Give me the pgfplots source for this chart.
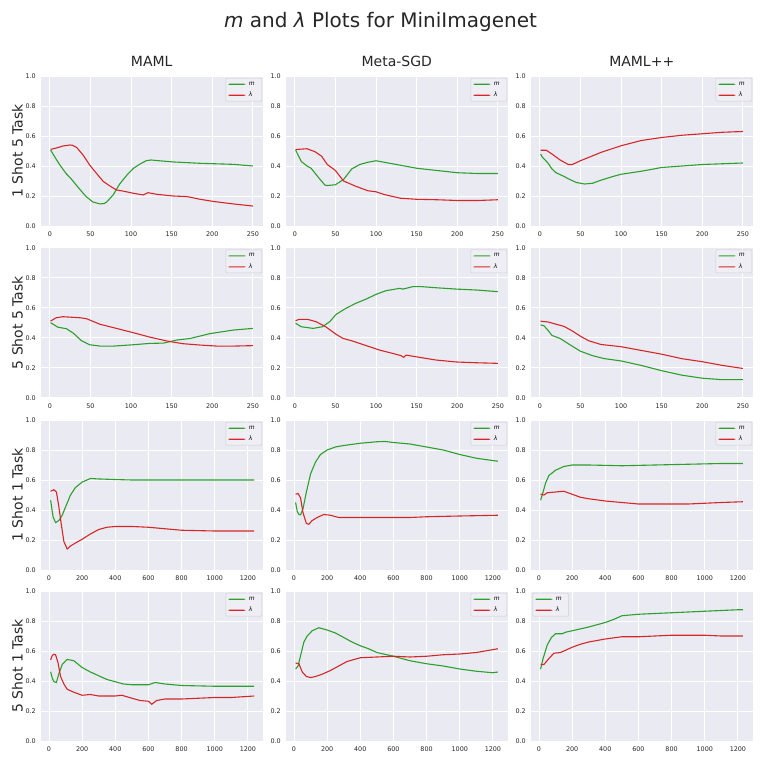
\documentclass[border=0pt]{standalone}
\usepackage{fontspec}
\setmainfont{DejaVu Sans}
\usepackage{pgfplots}
\pgfplotsset{compat=1.18}
\definecolor{bgc}{HTML}{EAEAF2}
\definecolor{tc}{HTML}{262626}
\definecolor{legc}{HTML}{CFCFD5}
\definecolor{legf}{HTML}{EEEEF4}
\definecolor{mgreen}{rgb}{0.173,0.627,0.173}
\definecolor{lred}{rgb}{0.839,0.153,0.157}
\pgfplotsset{
  every axis legend/.append style={
      draw=legc, fill=legf, rounded corners=1pt, line width=0.5pt,
      font=\fontsize{6}{7}\selectfont, inner xsep=2.5pt, inner ysep=1.5pt,
      row sep=2pt, nodes={inner sep=0pt, minimum height=9pt},
      /tikz/every odd column/.append style={column sep=3.5pt}},
  legend cell align=left,
}
\pgfplotsset{
  base/.style={
    scale only axis, width=222.5pt, height=150pt, anchor=south west,
    axis background/.style={fill=bgc},
    axis line style={draw=none},
    grid=major, major grid style={white, line width=0.9pt},
    major tick length=0pt,
    ymin=0, ymax=1, ytick={0,0.2,0.4,0.6,0.8,1},
    scaled ticks=false,
    /pgf/number format/assume math mode=true,
    /pgf/number format/1000 sep={},
    yticklabel={\pgfmathprintnumber[fixed,fixed zerofill,precision=1]{\tick}},
    tick label style={font=\fontsize{6.4}{7}\selectfont, text=tc, inner sep=0pt},
    yticklabel style={anchor=east, xshift=-4.5pt},
    xticklabel style={anchor=north, yshift=-5.5pt},
    title style={at={(0.5,1)}, anchor=base, yshift=3.3pt, font=\fontsize{14}{16}\selectfont, text=tc, inner sep=0pt},
    ylabel style={at={(axis description cs:-0.0787,0.5)}, anchor=south, font=\fontsize{14}{16}\selectfont, text=tc, inner sep=0pt},
    legend style={at={(1,1)}, anchor=north east, xshift=-1pt, yshift=-2pt},
    legend image code/.code={\fill[##1, draw=none] (0pt,-0.55pt) rectangle (17pt,0.55pt);},
  },
  short/.style={base, xmin=-11.45, xmax=262.45, xtick={0,50,100,150,200,250}},
  long/.style={base, xmin=-51, xmax=1291, xtick={0,200,400,600,800,1000,1200}},
  mline/.style={color=mgreen, line width=1.1pt, no markers},
  lline/.style={color=lred, line width=1.1pt, no markers},
}
\newcommand{\legM}{\addlegendentry{\itshape m\hspace*{4.5pt}}}
\newcommand{\legL}{\addlegendentry{\itshape λ}}
\begin{document}
\begin{tikzpicture}
\useasboundingbox (0,0) rectangle (761pt,761pt);
\node[anchor=base, font=\fontsize{20}{24}\selectfont, text=tc, inner sep=0pt] at (380.5pt,733pt) {\textit{m} and \textit{λ} Plots for MiniImagenet};

% Row 1: 1 Shot 5 Task
\begin{axis}[short, at={(40.5pt,535pt)}, title={MAML}, ylabel={1 Shot 5 Task}]
\addplot[mline] coordinates {(1,0.507)(5,0.47)(12,0.41)(20,0.35)(27,0.31)(33,0.27)(40,0.225)(45,0.195)(53,0.16)(62,0.147)(67,0.15)(70,0.16)(78,0.207)(86,0.28)(95,0.34)(103,0.385)(111,0.413)(119,0.436)(125,0.44)(132,0.436)(152,0.427)(185,0.418)(226,0.411)(250,0.40)};
\legM
\addplot[lline] coordinates {(1,0.511)(8,0.52)(16,0.533)(24.7,0.54)(28,0.538)(33,0.524)(41,0.473)(49,0.407)(57.6,0.35)(66,0.296)(74,0.267)(82,0.24)(90,0.233)(103,0.218)(115,0.207)(121,0.222)(132,0.211)(152,0.2)(169,0.196)(185,0.178)(201,0.164)(226,0.147)(250,0.133)};
\legL
\end{axis}
\begin{axis}[short, at={(285.5pt,535pt)}, title={Meta-SGD}]
\addplot[mline] coordinates {(1,0.507)(8,0.43)(15,0.40)(20,0.385)(30,0.318)(37,0.273)(40,0.27)(50,0.275)(60,0.31)(70,0.38)(80,0.41)(90,0.425)(100,0.435)(110,0.425)(125,0.41)(150,0.385)(175,0.37)(200,0.355)(225,0.35)(250,0.35)};
\legM
\addplot[lline] coordinates {(1,0.51)(15,0.515)(25,0.495)(33,0.465)(40,0.41)(50,0.37)(60,0.30)(75,0.265)(90,0.235)(100,0.228)(110,0.21)(130,0.185)(150,0.178)(175,0.175)(200,0.17)(225,0.17)(250,0.175)};
\legL
\end{axis}
\begin{axis}[short, at={(530.5pt,535pt)}, title={MAML++}]
\addplot[mline] coordinates {(1,0.48)(3,0.46)(10,0.42)(15,0.38)(20,0.355)(30,0.33)(35,0.315)(45,0.29)(55,0.28)(65,0.285)(75,0.305)(90,0.33)(100,0.345)(125,0.365)(150,0.39)(175,0.40)(200,0.41)(225,0.415)(250,0.42)};
\legM
\addplot[lline] coordinates {(1,0.505)(8,0.505)(15,0.48)(25,0.44)(35,0.41)(40,0.41)(50,0.435)(75,0.49)(100,0.535)(125,0.57)(150,0.59)(175,0.605)(200,0.615)(225,0.625)(250,0.63)};
\legL
\end{axis}

% Row 2: 5 Shot 5 Task
\begin{axis}[short, at={(40.5pt,363.3pt)}, ylabel={5 Shot 5 Task}]
\addplot[mline] coordinates {(1,0.50)(10,0.47)(20.5,0.46)(29,0.43)(39,0.38)(49,0.353)(62,0.344)(78,0.344)(103,0.353)(123,0.362)(140,0.364)(156,0.384)(173,0.395)(197,0.427)(226,0.451)(250,0.462)};
\legM
\addplot[lline] coordinates {(1,0.511)(8,0.533)(16,0.54)(37,0.533)(45,0.527)(62,0.489)(82,0.462)(103,0.433)(123,0.404)(144,0.378)(164,0.36)(185,0.351)(206,0.344)(226,0.344)(250,0.347)};
\legL
\end{axis}
\begin{axis}[short, at={(285.5pt,363.3pt)}]
\addplot[mline] coordinates {(1,0.496)(8,0.473)(22.6,0.462)(34,0.473)(43,0.507)(51,0.556)(63,0.596)(75,0.629)(88,0.658)(100,0.689)(112,0.713)(129,0.729)(133,0.724)(145,0.74)(157,0.74)(174,0.733)(199,0.724)(223,0.718)(250,0.707)};
\legM
\addplot[lline] coordinates {(1,0.513)(5,0.522)(16,0.522)(26,0.507)(38,0.473)(51,0.422)(59,0.396)(71,0.378)(88,0.347)(104,0.318)(120,0.296)(131,0.28)(134,0.269)(137,0.284)(149,0.273)(174,0.251)(199,0.238)(223,0.233)(250,0.229)};
\legL
\end{axis}
\begin{axis}[short, at={(530.5pt,363.3pt)}]
\addplot[mline] coordinates {(1,0.485)(5,0.48)(10,0.45)(15,0.415)(25,0.395)(35,0.36)(50,0.31)(65,0.28)(80,0.26)(100,0.245)(125,0.215)(150,0.18)(175,0.15)(200,0.13)(225,0.12)(250,0.12)};
\legM
\addplot[lline] coordinates {(1,0.51)(10,0.505)(20,0.49)(30,0.475)(40,0.445)(50,0.41)(60,0.38)(75,0.355)(100,0.34)(125,0.315)(150,0.29)(175,0.26)(200,0.24)(225,0.215)(250,0.195)};
\legL
\end{axis}

% Row 3: 1 Shot 1 Task
\begin{axis}[long, at={(40.5pt,191pt)}, ylabel={1 Shot 1 Task}]
\addplot[mline] coordinates {(10,0.465)(25,0.354)(40,0.316)(60,0.33)(80,0.365)(100,0.42)(130,0.50)(160,0.55)(200,0.586)(250,0.61)(300,0.607)(400,0.603)(500,0.60)(700,0.60)(1000,0.60)(1238,0.60)};
\legM
\addplot[lline] coordinates {(10,0.525)(30,0.535)(45,0.52)(60,0.42)(75,0.30)(90,0.19)(110,0.14)(130,0.16)(160,0.18)(200,0.205)(250,0.24)(300,0.27)(350,0.285)(400,0.29)(500,0.29)(600,0.285)(700,0.275)(800,0.265)(1000,0.26)(1238,0.26)};
\legL
\end{axis}
\begin{axis}[long, at={(285.5pt,191pt)}]
\addplot[mline] coordinates {(10,0.45)(20,0.39)(30,0.37)(40,0.368)(55,0.41)(75,0.52)(100,0.64)(130,0.72)(160,0.77)(200,0.80)(250,0.82)(300,0.83)(400,0.845)(500,0.855)(550,0.857)(600,0.85)(700,0.84)(800,0.82)(900,0.80)(1000,0.77)(1100,0.745)(1230,0.725)};
\legM
\addplot[lline] coordinates {(10,0.505)(25,0.51)(40,0.48)(55,0.38)(75,0.31)(90,0.305)(110,0.33)(140,0.35)(180,0.37)(220,0.365)(270,0.35)(400,0.35)(600,0.35)(700,0.35)(800,0.355)(1000,0.36)(1230,0.365)};
\legL
\end{axis}
\begin{axis}[long, at={(530.5pt,191pt)}]
\addplot[mline] coordinates {(10,0.465)(25,0.52)(40,0.58)(60,0.63)(100,0.665)(150,0.69)(200,0.70)(300,0.70)(500,0.695)(700,0.70)(900,0.705)(1100,0.71)(1230,0.71)};
\legM
\addplot[lline] coordinates {(10,0.505)(30,0.5)(50,0.515)(100,0.52)(150,0.525)(200,0.505)(250,0.485)(300,0.475)(400,0.46)(500,0.45)(600,0.44)(700,0.44)(800,0.44)(900,0.44)(1000,0.445)(1100,0.45)(1230,0.455)};
\legL
\end{axis}

% Row 4: 5 Shot 1 Task
\begin{axis}[long, at={(40.5pt,20pt)}, ylabel={5 Shot 1 Task}]
\addplot[mline] coordinates {(10,0.462)(20,0.42)(30,0.396)(45,0.39)(60,0.45)(80,0.51)(110,0.544)(150,0.535)(200,0.49)(250,0.46)(300,0.435)(350,0.41)(400,0.395)(450,0.38)(500,0.375)(600,0.375)(640,0.39)(700,0.38)(800,0.37)(1000,0.365)(1238,0.365)};
\legM
\addplot[lline] coordinates {(10,0.54)(20,0.57)(30,0.578)(40,0.575)(55,0.52)(70,0.43)(90,0.38)(110,0.345)(150,0.325)(200,0.305)(250,0.31)(300,0.30)(350,0.30)(400,0.30)(440,0.305)(500,0.285)(550,0.27)(600,0.265)(620,0.245)(650,0.27)(700,0.28)(800,0.28)(900,0.285)(1000,0.29)(1100,0.29)(1238,0.30)};
\legL
\end{axis}
\begin{axis}[long, at={(285.5pt,20pt)}]
\addplot[mline] coordinates {(10,0.48)(25,0.50)(40,0.57)(60,0.66)(80,0.70)(110,0.735)(150,0.755)(200,0.74)(250,0.72)(300,0.69)(350,0.66)(400,0.635)(450,0.615)(500,0.59)(600,0.565)(700,0.535)(800,0.515)(900,0.50)(1000,0.48)(1100,0.465)(1200,0.455)(1230,0.46)};
\legM
\addplot[lline] coordinates {(10,0.52)(30,0.515)(50,0.46)(75,0.43)(100,0.423)(130,0.43)(170,0.445)(220,0.47)(270,0.50)(320,0.53)(400,0.555)(500,0.56)(600,0.565)(700,0.56)(800,0.565)(900,0.575)(1000,0.58)(1100,0.59)(1230,0.615)};
\legL
\end{axis}
\begin{axis}[long, at={(530.5pt,20pt)}, legend style={at={(0,1)}, anchor=north west, xshift=3pt}]
\addplot[mline] coordinates {(10,0.48)(25,0.55)(50,0.64)(75,0.69)(100,0.715)(140,0.715)(160,0.725)(200,0.735)(300,0.76)(400,0.79)(450,0.81)(500,0.835)(600,0.845)(700,0.85)(800,0.855)(1000,0.865)(1200,0.875)(1230,0.875)};
\legM
\addplot[lline] coordinates {(10,0.51)(30,0.51)(60,0.55)(90,0.585)(130,0.59)(160,0.605)(200,0.625)(250,0.645)(300,0.66)(400,0.68)(500,0.695)(600,0.695)(700,0.70)(800,0.705)(900,0.705)(1000,0.705)(1100,0.70)(1230,0.70)};
\legL
\end{axis}
\end{tikzpicture}
\end{document}
